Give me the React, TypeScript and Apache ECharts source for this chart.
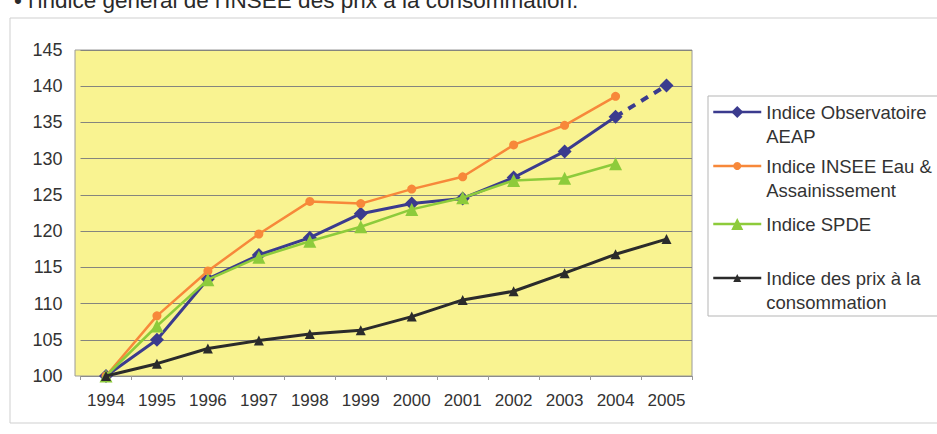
import React, { useEffect, useRef } from "react";
import * as echarts from "echarts";

const years = ["1994", "1995", "1996", "1997", "1998", "1999", "2000", "2001", "2002", "2003", "2004", "2005"];
const aeap = [100, 105.0, 113.4, 116.7, 119.1, 122.4, 123.8, 124.5, 127.4, 131.0, 135.8, 140.1];
const inseeEau = [100, 108.3, 114.5, 119.6, 124.1, 123.8, 125.8, 127.5, 131.9, 134.6, 138.6, null];
const spde = [100, 106.9, 113.3, 116.4, 118.6, 120.6, 123.0, 124.6, 127.0, 127.3, 129.3, null];
const cpi = [100, 101.7, 103.8, 104.9, 105.8, 106.3, 108.2, 110.5, 111.7, 114.2, 116.8, 118.9];
const forecastFrom = 10; // AEAP: last segment (2004 -> 2005) drawn dashed

const seriesNames = [
  "Indice Observatoire AEAP",
  "Indice INSEE Eau & Assainissement",
  "Indice SPDE",
  "Indice des prix à la consommation",
];
const legendLabels = [
  ["Indice Observatoire", "AEAP"],
  ["Indice INSEE Eau &", "Assainissement"],
  ["Indice SPDE"],
  ["Indice des prix à la", "consommation"],
];
const titleText = "• l'indice général de l'INSEE des prix à la consommation.";

const FONT = '"Liberation Sans", Arial, sans-serif';

export default function App() {
  const ref = useRef<HTMLDivElement>(null);

  useEffect(() => {
    if (!ref.current) return;
    const chart = echarts.init(ref.current, null, { renderer: "svg" });

    const gridLeft = 80.5;
    const gridRight = 937 - 692;
    const gridTop = 50;
    const gridBottom = 434 - 376;

    const legendTops = [76, 130, 212, 242];
    const legendIconH = [15, 10, 15, 10];
    const legends = seriesNames.map((name, i) => {
      const lines = legendLabels[i];
      // a leading blank line keeps the symbol level with the first text line
      const label = lines.length > 1 ? " \n" + lines.join("\n") : lines[0];
      return {
        show: true,
        left: 712,
        top: legendTops[i],
        padding: 0,
        selectedMode: false,
        itemWidth: 48,
        itemHeight: legendIconH[i],
        data: [{ name }],
        formatter: () => label,
        lineStyle: { width: 2.5 },
        textStyle: {
          fontFamily: FONT,
          fontSize: 18.5,
          lineHeight: 24,
          color: "#333333",
        },
      };
    });

    const option: any = {
      animation: false,
      backgroundColor: "#ffffff",
      textStyle: { fontFamily: FONT },
      graphic: [
        {
          type: "rect",
          z: -10,
          shape: { x: 10, y: 18, width: 940, height: 405 },
          style: { fill: "#ffffff", stroke: "#cfcfcf", lineWidth: 1 },
          silent: true,
        },
        {
          type: "rect",
          z: -5,
          shape: { x: 75, y: gridTop, width: 692 - 75, height: 376 - gridTop },
          style: { fill: "#F9F391", stroke: "#9a9a9a", lineWidth: 1 },
          silent: true,
        },
        {
          type: "rect",
          z: -5,
          shape: { x: 708, y: 96, width: 240, height: 220 },
          style: { fill: "#ffffff", stroke: "#b5b5b5", lineWidth: 1 },
          silent: true,
        },
        {
          type: "text",
          x: 14,
          y: 0,
          style: {
            text: titleText,
            font: `22.5px ${FONT}`,
            fill: "#2a2a2a",
            verticalAlign: "middle",
          },
          silent: true,
        },
      ],
      legend: legends,
      grid: {
        left: gridLeft,
        right: gridRight,
        top: gridTop,
        bottom: gridBottom,
        containLabel: false,
      },
      xAxis: {
        type: "category",
        data: years,
        boundaryGap: true,
        axisLine: { show: true, lineStyle: { color: "#8c8c8c", width: 1 } },
        axisTick: { show: true, length: 4, lineStyle: { color: "#9a9a9a" } },
        axisLabel: { fontSize: 17, color: "#333333", margin: 16, fontFamily: FONT },
        splitLine: { show: false },
      },
      yAxis: {
        type: "value",
        min: 100,
        max: 145,
        interval: 5,
        axisLine: { show: false },
        axisTick: { show: false },
        axisLabel: { fontSize: 18, color: "#333333", margin: 18, fontFamily: FONT },
        splitLine: { show: true, lineStyle: { color: "#85857e", width: 1 } },
      },
      series: [
        {
          name: seriesNames[0],
          type: "line",
          data: aeap.map((v, i) => (i <= forecastFrom ? v : null)),
          symbol: "diamond",
          symbolSize: 14,
          color: "#3B3B8E",
          lineStyle: { width: 3, color: "#3B3B8E" },
          itemStyle: { color: "#3B3B8E" },
          z: 3,
        },
        {
          name: "AEAP 2005",
          type: "line",
          data: aeap.map((v, i) =>
            i < forecastFrom ? null : i === forecastFrom ? { value: v, symbol: "none" } : v
          ),
          symbol: "diamond",
          symbolSize: 14,
          color: "#3B3B8E",
          lineStyle: { width: 4, color: "#3B3B8E", type: [8, 7] },
          itemStyle: { color: "#3B3B8E" },
          z: 2,
        },
        {
          name: seriesNames[1],
          type: "line",
          data: inseeEau,
          symbol: "circle",
          symbolSize: 9,
          color: "#F7883A",
          lineStyle: { width: 2.5, color: "#F7883A" },
          itemStyle: { color: "#F7883A" },
          z: 4,
        },
        {
          name: seriesNames[2],
          type: "line",
          data: spde,
          symbol: "triangle",
          symbolSize: 13,
          color: "#8DCB3B",
          lineStyle: { width: 2.5, color: "#8DCB3B" },
          itemStyle: { color: "#8DCB3B" },
          z: 5,
        },
        {
          name: seriesNames[3],
          type: "line",
          data: cpi,
          symbol: "triangle",
          symbolSize: 10,
          color: "#2B2B2B",
          lineStyle: { width: 3, color: "#2B2B2B" },
          itemStyle: { color: "#2B2B2B" },
          z: 6,
        },
      ],
    };

    chart.setOption(option);
    return () => {
      chart.dispose();
    };
  }, []);

  return (
    <div
      ref={ref}
      style={{ position: "fixed", left: 0, top: 0, width: 937, height: 434, background: "#ffffff" }}
    />
  );
}
